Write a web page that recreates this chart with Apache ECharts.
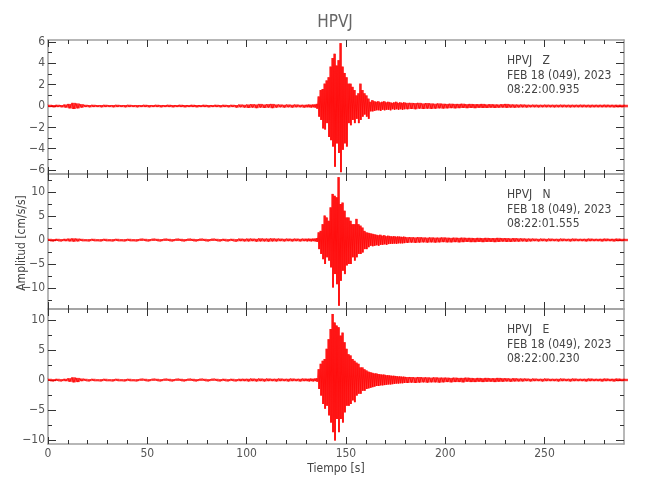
<!DOCTYPE html>
<html>
<head>
<meta charset="utf-8">
<script src="https://cdn.jsdelivr.net/npm/echarts@6/dist/echarts.min.js"></script>
<style>html,body{margin:0;padding:0;background:#fff}#c{width:650px;height:500px}</style>
</head>
<body>
<div id="c"></div>
<script>
// ---- data ----
const chartTitle = "HPVJ";
const xAxisName = "Tiempo [s]";
const yAxisName = "Amplitud [cm/s/s]";
const xLabels = [0, 50, 100, 150, 200, 250];
const xMinorTicks = [10,20,30,40,60,70,80,90,110,120,130,140,160,170,180,190,210,220,230,240,260,270,280];
const xRange = [0, 290];

const stationText = [
  ["HPVJ   Z", "FEB 18 (049), 2023", "08:22:00.935"],
  ["HPVJ   N", "FEB 18 (049), 2023", "08:22:01.555"],
  ["HPVJ   E", "FEB 18 (049), 2023", "08:22:00.230"]
];

const zRange = [-6.37, 6.19];
const nRange = [-14.375, 13.75];
const eRange = [-10.67, 11.83];
const zLabels = [-6, -4, -2, 0, 2, 4, 6];
const zMinor = [-5, -3, -1, 1, 3, 5];
const nLabels = [-10, -5, 0, 5, 10];
const nMinor = [-12.5, -7.5, -2.5, 2.5, 7.5, 12.5];
const eLabels = [-10, -5, 0, 5, 10];
const eMinor = [-7.5, -2.5, 2.5, 7.5];

// time samples (s) at which the trace envelope was read
const times = [
  0,2,4,6,8,10,12,14,16,18,20,22,24,26,28,30,32,34,36,38,40,42,44,46,48,50,52,54,56,58,60,62,64,66,68,70,72,74,76,78,80,82,84,86,88,90,92,94,96,98,100,102,104,106,108,110,112,114,116,118,120,122,124,126,128,130,
  131,132,133,134,135,136,137,138,139,140,141,142,143,144,145,146,147,148,149,150,151,152,153,154,155,156,157,158,159,160,161,162,163,164,165,166,167,168,169,170,171,172,173,174,175,176,177,178,179,180,
  182,184,186,188,190,192,194,196,198,200,202,204,206,208,210,212,214,216,218,220,222,224,226,228,230,232,234,236,238,240,242,244,246,248,250,252,254,256,258,260,262,264,266,268,270,272,274,276,278,280,282,284,286,288,290
];

// Z component: upper / lower envelope
const zUp = [
  0.12,0.10,0.12,0.10,0.15,0.20,0.30,0.25,0.18,0.12,
  0.10,0.12,0.10,0.10,0.12,0.10,0.10,0.12,0.10,0.10,
  0.12,0.10,0.10,0.10,0.12,0.10,0.10,0.12,0.10,0.10,
  0.12,0.10,0.10,0.12,0.10,0.10,0.12,0.10,0.10,0.12,
  0.10,0.10,0.12,0.10,0.12,0.10,0.12,0.10,0.15,0.12,
  0.15,0.18,0.15,0.20,0.15,0.18,0.20,0.15,0.15,0.12,
  0.15,0.12,0.15,0.12,0.12,0.12,
  0.15,0.12,0.15,0.15,0.2,0.9,1.5,1.6,2.1,2.4,
  2.7,3.7,4.5,4.9,3.8,4.3,5.9,3.7,3.1,2.7,
  2.1,2.1,1.8,1.5,1.0,1.2,2.1,1.5,1.2,1.0,
  0.7,0.4,0.55,0.45,0.4,0.45,0.35,0.4,0.45,0.35,
  0.4,0.35,0.3,0.35,0.4,0.3,0.35,0.3,0.35,0.3,
  0.3,0.28,0.3,0.25,0.28,0.25,0.22,0.25,0.22,0.2,
  0.22,0.2,0.2,0.22,0.18,0.2,0.18,0.18,0.2,0.16,
  0.18,0.16,0.15,0.18,0.2,0.16,0.15,0.14,0.15,0.13,
  0.12,0.13,0.12,0.12,0.13,0.12,0.12,0.12,0.13,0.12,
  0.12,0.12,0.12,0.13,0.12,0.12,0.12,0.12,0.12,0.13,
  0.12,0.12,0.12,0.12,0.12
];
const zLo = [
  -0.10,-0.12,-0.10,-0.12,-0.15,-0.22,-0.28,-0.22,-0.15,-0.10,
  -0.12,-0.10,-0.10,-0.12,-0.10,-0.10,-0.12,-0.10,-0.10,-0.12,
  -0.10,-0.10,-0.12,-0.10,-0.10,-0.12,-0.10,-0.10,-0.12,-0.10,
  -0.10,-0.12,-0.10,-0.10,-0.12,-0.10,-0.10,-0.12,-0.10,-0.10,
  -0.12,-0.10,-0.10,-0.12,-0.10,-0.12,-0.10,-0.15,-0.12,-0.15,
  -0.18,-0.15,-0.20,-0.15,-0.18,-0.15,-0.20,-0.15,-0.12,-0.15,
  -0.12,-0.15,-0.12,-0.12,-0.15,-0.12,
  -0.12,-0.15,-0.12,-0.15,-0.25,-1.0,-1.3,-2.1,-2.2,-1.6,
  -2.9,-3.2,-3.8,-5.7,-3.5,-4.4,-6.2,-4.1,-3.5,-3.8,
  -1.6,-1.8,-1.3,-1.6,-1.2,-1.6,-1.3,-1.0,-0.8,-1.0,
  -1.2,-0.5,-0.5,-0.45,-0.4,-0.4,-0.45,-0.35,-0.4,-0.35,
  -0.35,-0.4,-0.3,-0.35,-0.3,-0.35,-0.3,-0.35,-0.3,-0.3,
  -0.28,-0.3,-0.25,-0.28,-0.25,-0.27,-0.25,-0.22,-0.24,-0.22,
  -0.2,-0.22,-0.2,-0.18,-0.2,-0.18,-0.2,-0.17,-0.18,-0.18,
  -0.16,-0.18,-0.16,-0.15,-0.17,-0.15,-0.16,-0.14,-0.13,-0.14,
  -0.12,-0.12,-0.13,-0.12,-0.12,-0.12,-0.13,-0.12,-0.12,-0.12,
  -0.13,-0.12,-0.12,-0.12,-0.12,-0.13,-0.12,-0.12,-0.12,-0.12,
  -0.12,-0.13,-0.12,-0.12,-0.12
];

// N component
const nUp = [
  0.25,0.2,0.25,0.2,0.25,0.3,0.35,0.3,0.25,0.2,
  0.2,0.25,0.2,0.2,0.25,0.2,0.2,0.25,0.2,0.2,
  0.25,0.2,0.2,0.2,0.25,0.2,0.2,0.25,0.2,0.2,
  0.25,0.2,0.2,0.25,0.2,0.2,0.25,0.2,0.2,0.25,
  0.2,0.2,0.25,0.2,0.25,0.2,0.25,0.2,0.3,0.25,
  0.3,0.3,0.25,0.35,0.3,0.3,0.35,0.3,0.3,0.25,
  0.3,0.25,0.3,0.25,0.3,0.25,
  0.3,0.25,0.3,0.3,0.4,1.6,1.9,3.3,5.1,4.7,
  4.0,6.8,9.6,9.2,8.9,13.1,7.5,7.8,6.1,4.7,
  4.7,4.0,3.3,3.3,4.4,3.3,3.0,2.6,1.9,1.6,
  1.5,1.4,1.3,1.2,1.1,1.0,1.1,0.9,1.0,0.8,
  0.9,0.8,0.75,0.8,0.7,0.75,0.7,0.65,0.7,0.6,
  0.6,0.55,0.6,0.55,0.5,0.55,0.5,0.5,0.55,0.5,
  0.45,0.5,0.45,0.5,0.45,0.45,0.4,0.45,0.4,0.45,
  0.4,0.4,0.45,0.4,0.4,0.35,0.4,0.35,0.35,0.3,
  0.3,0.3,0.25,0.3,0.25,0.3,0.25,0.25,0.3,0.25,
  0.25,0.3,0.25,0.25,0.25,0.3,0.25,0.25,0.25,0.3,
  0.25,0.25,0.3,0.25,0.25
];
const nLo = [
  -0.2,-0.25,-0.2,-0.25,-0.25,-0.3,-0.35,-0.3,-0.2,-0.2,
  -0.25,-0.2,-0.2,-0.25,-0.2,-0.2,-0.25,-0.2,-0.2,-0.25,
  -0.2,-0.2,-0.25,-0.2,-0.2,-0.25,-0.2,-0.2,-0.25,-0.2,
  -0.2,-0.25,-0.2,-0.2,-0.25,-0.2,-0.2,-0.25,-0.2,-0.2,
  -0.25,-0.2,-0.2,-0.25,-0.2,-0.25,-0.2,-0.3,-0.25,-0.3,
  -0.3,-0.25,-0.35,-0.3,-0.3,-0.35,-0.3,-0.3,-0.25,-0.3,
  -0.25,-0.3,-0.25,-0.3,-0.25,-0.3,
  -0.25,-0.3,-0.25,-0.3,-0.4,-1.9,-2.9,-4.0,-5.0,-3.6,
  -4.3,-5.7,-9.9,-7.1,-9.2,-13.7,-8.5,-6.4,-7.1,-5.3,
  -5.0,-5.0,-3.6,-4.3,-3.6,-2.9,-2.9,-2.6,-1.9,-1.9,
  -1.5,-1.2,-1.3,-1.2,-1.1,-1.2,-1.0,-1.0,-0.9,-1.0,
  -0.85,-0.8,-0.8,-0.75,-0.8,-0.7,-0.7,-0.7,-0.65,-0.6,
  -0.55,-0.6,-0.55,-0.5,-0.55,-0.5,-0.55,-0.5,-0.45,-0.5,
  -0.5,-0.45,-0.5,-0.45,-0.4,-0.45,-0.45,-0.4,-0.45,-0.4,
  -0.4,-0.45,-0.4,-0.35,-0.4,-0.4,-0.35,-0.35,-0.3,-0.35,
  -0.3,-0.25,-0.3,-0.25,-0.3,-0.25,-0.25,-0.3,-0.25,-0.25,
  -0.3,-0.25,-0.25,-0.25,-0.3,-0.25,-0.25,-0.25,-0.3,-0.25,
  -0.25,-0.3,-0.25,-0.25,-0.25
];

// E component
const eUp = [
  0.2,0.15,0.2,0.15,0.2,0.3,0.45,0.35,0.25,0.2,
  0.15,0.2,0.15,0.15,0.2,0.15,0.15,0.2,0.15,0.15,
  0.2,0.15,0.15,0.15,0.2,0.15,0.15,0.2,0.15,0.15,
  0.2,0.15,0.15,0.2,0.15,0.15,0.2,0.15,0.15,0.2,
  0.15,0.15,0.2,0.15,0.2,0.15,0.2,0.15,0.2,0.2,
  0.2,0.25,0.2,0.25,0.2,0.25,0.2,0.2,0.25,0.2,
  0.2,0.25,0.2,0.2,0.25,0.2,
  0.2,0.25,0.2,0.25,0.3,1.8,2.7,3.2,3.5,5.2,
  6.8,8.5,11.0,9.6,9.1,8.8,7.4,7.9,6.3,5.2,
  4.3,4.1,3.5,3.2,2.9,2.7,2.1,2.1,1.8,1.6,
  1.4,1.3,1.2,1.1,1.1,1.0,0.95,0.9,0.9,0.8,
  0.8,0.75,0.7,0.7,0.65,0.6,0.6,0.55,0.55,0.5,
  0.5,0.45,0.5,0.45,0.45,0.4,0.45,0.4,0.4,0.4,
  0.35,0.4,0.35,0.35,0.4,0.35,0.3,0.35,0.3,0.35,
  0.3,0.3,0.35,0.3,0.3,0.25,0.3,0.25,0.25,0.25,
  0.2,0.25,0.2,0.2,0.25,0.2,0.2,0.2,0.25,0.2,
  0.2,0.25,0.2,0.2,0.2,0.25,0.2,0.2,0.2,0.25,
  0.2,0.2,0.25,0.2,0.2
];
const eLo = [
  -0.15,-0.2,-0.15,-0.2,-0.2,-0.3,-0.4,-0.35,-0.2,-0.15,
  -0.2,-0.15,-0.15,-0.2,-0.15,-0.15,-0.2,-0.15,-0.15,-0.2,
  -0.15,-0.15,-0.2,-0.15,-0.15,-0.2,-0.15,-0.15,-0.2,-0.15,
  -0.15,-0.2,-0.15,-0.15,-0.2,-0.15,-0.15,-0.2,-0.15,-0.15,
  -0.2,-0.15,-0.15,-0.2,-0.15,-0.2,-0.15,-0.2,-0.2,-0.2,
  -0.25,-0.2,-0.25,-0.2,-0.25,-0.2,-0.2,-0.25,-0.2,-0.2,
  -0.25,-0.2,-0.2,-0.25,-0.2,-0.2,
  -0.25,-0.2,-0.25,-0.2,-0.3,-1.5,-2.6,-4.0,-4.8,-4.3,
  -5.9,-7.1,-8.7,-10.1,-6.5,-8.7,-6.5,-7.1,-5.4,-4.3,
  -4.3,-4.0,-3.4,-3.7,-2.6,-2.3,-2.3,-1.8,-1.8,-1.5,
  -1.4,-1.3,-1.2,-1.1,-1.0,-1.0,-0.9,-0.9,-0.85,-0.8,
  -0.75,-0.75,-0.7,-0.65,-0.6,-0.6,-0.55,-0.55,-0.5,-0.5,
  -0.45,-0.5,-0.45,-0.4,-0.45,-0.4,-0.4,-0.45,-0.4,-0.35,
  -0.4,-0.35,-0.35,-0.4,-0.3,-0.35,-0.35,-0.3,-0.35,-0.3,
  -0.3,-0.35,-0.3,-0.3,-0.25,-0.3,-0.25,-0.25,-0.25,-0.2,
  -0.25,-0.2,-0.2,-0.25,-0.2,-0.2,-0.2,-0.25,-0.2,-0.2,
  -0.25,-0.2,-0.2,-0.2,-0.25,-0.2,-0.2,-0.2,-0.25,-0.2,
  -0.2,-0.25,-0.2,-0.2,-0.2
];

// ---- chart construction ----
const FONT = "'Liberation Sans Narrow', 'DejaVu Sans Condensed', 'Roboto', sans-serif";
const TEXT = '#555';
const AXIS = '#a0a0a0';
const TICK = '#333';

function zigzag(up, lo) {
  const pts = [];
  for (let i = 0; i < times.length; i++) {
    const step = i < times.length - 1 ? times[i + 1] - times[i] : times[i] - times[i - 1];
    pts.push([times[i], up[i]]);
    pts.push([times[i] + step / 2, lo[i]]);
  }
  return pts;
}
function bandData(up, lo) {
  return times.map((t, i) => [t, lo[i], up[i]]);
}
function bandItem(params, api) {
  const i = params.dataIndex;
  const t0 = api.value(0);
  const t1 = i < times.length - 1 ? times[i + 1] : t0 + (t0 - times[i - 1]);
  const a = api.coord([t0, api.value(2)]);
  const b = api.coord([t1, api.value(1)]);
  return {
    type: 'rect',
    shape: { x: a[0], y: a[1], width: b[0] - a[0], height: b[1] - a[1] },
    style: { fill: 'rgba(255,0,0,0.8)' }
  };
}
const fmt = v => (v < 0 ? '\u2212' + Math.abs(v) : String(v));

const panels = [
  { up: zUp, lo: zLo, range: zRange, labels: zLabels, minor: zMinor, top: 40, height: 134 },
  { up: nUp, lo: nLo, range: nRange, labels: nLabels, minor: nMinor, top: 174, height: 135 },
  { up: eUp, lo: eLo, range: eRange, labels: eLabels, minor: eMinor, top: 309, height: 135 }
];

const grid = [], xAxis = [], yAxis = [], series = [], graphic = [];
panels.forEach((p, g) => {
  grid.push({ left: 48, top: p.top, width: 576, height: p.height });
  const xBase = { type: 'value', gridIndex: g, min: xRange[0], max: xRange[1], splitLine: { show: false } };
  const yBase = { type: 'value', gridIndex: g, min: p.range[0], max: p.range[1], splitLine: { show: false } };
  const xi = xAxis.length, yi = yAxis.length;
  ['bottom', 'top'].forEach(pos => {
    xAxis.push(Object.assign({}, xBase, {
      position: pos,
      axisLine: { show: true, onZero: false, lineStyle: { color: AXIS, width: 1.5 } },
      axisTick: { show: true, inside: true, length: 7, customValues: xLabels, lineStyle: { color: TICK } },
      axisLabel: (pos === 'bottom' && g === 2)
        ? { show: true, customValues: xLabels, color: TEXT, fontFamily: FONT, fontSize: 12, margin: 4 }
        : { show: false }
    }));
    xAxis.push(Object.assign({}, xBase, {
      position: pos,
      axisLine: { show: false, onZero: false },
      axisTick: { show: true, inside: true, length: 4, customValues: xMinorTicks, lineStyle: { color: TICK } },
      axisLabel: { show: false }
    }));
  });
  ['left', 'right'].forEach(pos => {
    yAxis.push(Object.assign({}, yBase, {
      position: pos,
      axisLine: { show: true, onZero: false, lineStyle: { color: AXIS, width: 1.5 } },
      axisTick: { show: true, inside: true, length: 8, customValues: p.labels, lineStyle: { color: TICK } },
      axisLabel: pos === 'left'
        ? { show: true, customValues: p.labels, formatter: fmt, color: TEXT, fontFamily: FONT, fontSize: 12, margin: 3 }
        : { show: false }
    }));
    yAxis.push(Object.assign({}, yBase, {
      position: pos,
      axisLine: { show: false, onZero: false },
      axisTick: { show: true, inside: true, length: 4, customValues: p.minor, lineStyle: { color: TICK } },
      axisLabel: { show: false }
    }));
  });
  series.push({
    type: 'custom', xAxisIndex: xi, yAxisIndex: yi,
    data: bandData(p.up, p.lo),
    renderItem: bandItem,
    encode: { x: 0, y: [1, 2] },
    silent: true, z: 1
  });
  series.push({
    type: 'line', xAxisIndex: xi, yAxisIndex: yi,
    data: zigzag(p.up, p.lo),
    showSymbol: false, symbol: 'none', sampling: 'none',
    lineStyle: { color: '#ff0000', width: 0.8, opacity: 0.9 },
    z: 2
  });
  stationText[g].forEach((line, k) => {
    graphic.push({
      type: 'text', left: 507, top: p.top + 15 + k * 14.5,
      style: { text: line, fill: '#444', font: '12px ' + FONT, whiteSpace: 'pre' }
    });
  });
});

graphic.push({
  type: 'text', x: 335, y: 23,
  style: { text: chartTitle, fill: '#666', font: '17px ' + FONT, align: 'center', verticalAlign: 'middle' }
});
graphic.push({
  type: 'text', x: 336, y: 469,
  style: { text: xAxisName, fill: '#444', font: '12px ' + FONT, align: 'center', verticalAlign: 'middle' }
});
graphic.push({
  type: 'text', x: 22, y: 243, rotation: Math.PI / 2,
  style: { text: yAxisName, fill: '#444', font: '12px ' + FONT, align: 'center', verticalAlign: 'middle' }
});

const chart = echarts.init(document.getElementById('c'), null, { renderer: 'canvas' });
chart.setOption({
  animation: false,
  backgroundColor: '#ffffff',
  grid, xAxis, yAxis, series, graphic
});
</script>
</body>
</html>
